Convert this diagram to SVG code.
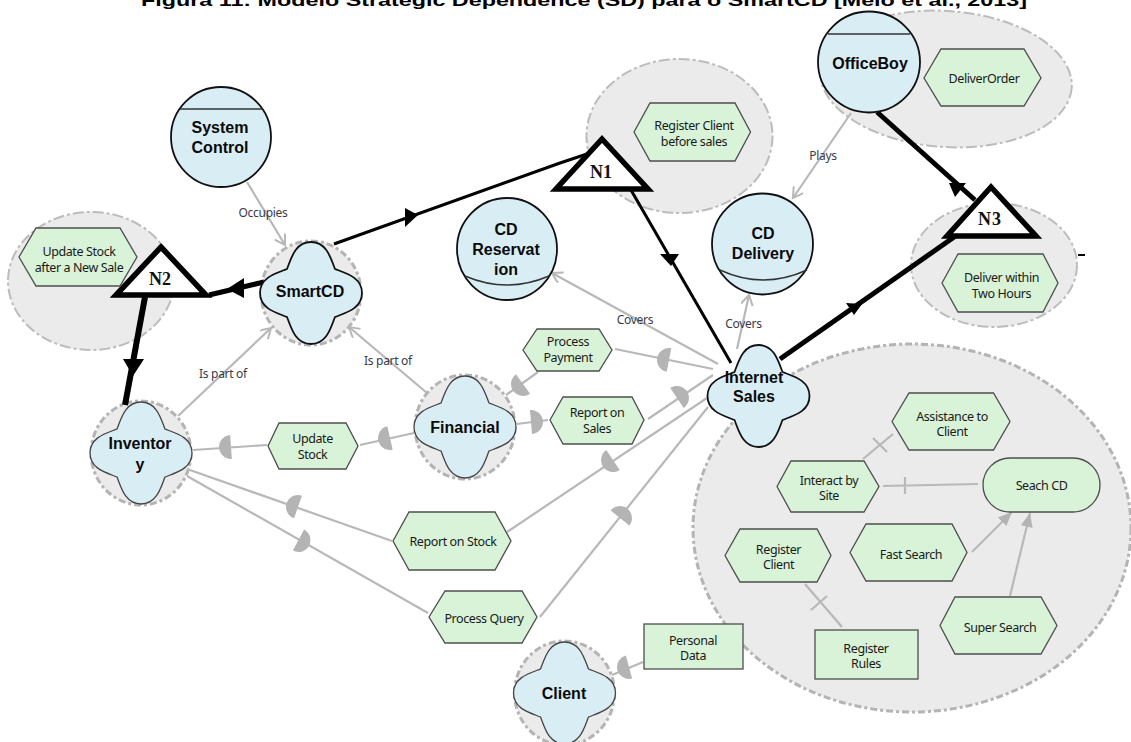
<svg xmlns="http://www.w3.org/2000/svg" xmlns:xlink="http://www.w3.org/1999/xlink" width="1131" height="742" viewBox="0 0 1131 742">
<style>
text{font-family:"Noto Sans","Liberation Sans",sans-serif;text-anchor:middle;fill:#1a1a1a}
.title{font-family:"Liberation Sans",Arial,sans-serif;font-weight:700;font-size:17px;fill:#000;text-anchor:start}
.b{font-family:"Liberation Sans",Arial,sans-serif;font-weight:700;font-size:16px;fill:#0a0a0a}
.t{font-size:12.5px;letter-spacing:-0.4px}
.l{font-size:12px;letter-spacing:-0.3px;fill:#3a3a4a}
.n{font-family:"Liberation Serif",serif;font-weight:700;font-size:18px;fill:#111}
.bd{fill:#ebebeb;stroke:#bcbcbc;stroke-width:2;stroke-dasharray:11 3 3 3}
.bd2{fill:#ebebeb;stroke:#b4b4b4;stroke-width:3;stroke-dasharray:7 3 3 3}
.ag{fill:#d9edf5;stroke:#111;stroke-width:1.8}
.ag2{fill:#d9edf5;stroke:#444;stroke-width:1.3}
.cl{fill:none;stroke:#333;stroke-width:1.4}
.h{fill:#d8f3d8;stroke:#4d4d4d;stroke-width:1.3}
.g{fill:none;stroke:#b8b8b8;stroke-width:2.2}
.k{fill:none;stroke:#000}
.tri{fill:#fff;stroke:#000;stroke-width:5.5;stroke-linejoin:miter}
.d{fill:#b4b4b4}
</style>
<defs>
<path id="cloud" d="M0,-51C16,-51 20,-34 24,-24C34,-20 51,-16 51,0C51,16 34,20 24,24C20,34 16,51 0,51C-16,51 -20,34 -24,24C-34,20 -51,16 -51,0C-51,-16 -34,-20 -24,-24C-20,-34 -16,-51 0,-51Z"/>
<path id="dm" class="d" d="M0,-12C7,-12 12,-6 12,0C12,6 7,12 0,12Z"/>
<marker id="open" markerWidth="14" markerHeight="14" refX="11" refY="6" orient="auto" markerUnits="userSpaceOnUse"><path d="M1,0L11,6L1,12" fill="none" stroke="#b8b8b8" stroke-width="2"/></marker>
<marker id="fill" markerWidth="16" markerHeight="14" refX="14" refY="7" orient="auto" markerUnits="userSpaceOnUse"><path d="M0,1L14,7L0,13Z" fill="#b4b4b4"/></marker>
</defs>
<rect width="1131" height="742" fill="#fff"/>
<text class="title" x="141" y="6" textLength="886" lengthAdjust="spacingAndGlyphs">Figura 11: Modelo Strategic Dependence (SD) para o SmartCD [Melo et al., 2013]</text>

<g id="boundaries">
<ellipse class="bd" cx="679.5" cy="136" rx="93" ry="77"/>
<ellipse class="bd" cx="946" cy="79" rx="126" ry="68" transform="rotate(4 946 79)"/>
<ellipse class="bd" cx="994" cy="265" rx="83" ry="62"/>
<ellipse class="bd" cx="91" cy="281" rx="83" ry="69"/>
<ellipse class="bd2" cx="912" cy="528" rx="219" ry="184"/>
<ellipse class="bd2" cx="311" cy="293" rx="50" ry="52"/>
<ellipse class="bd2" cx="141" cy="453" rx="50" ry="52"/>
<ellipse class="bd2" cx="465" cy="427" rx="50" ry="52"/>
<ellipse class="bd2" cx="564.5" cy="693" rx="50" ry="52"/>
</g>

<g id="connectors">
<path class="g" marker-end="url(#open)" d="M247,182L285,245"/>
<path class="g" marker-end="url(#open)" d="M178,416L271,328"/>
<path class="g" marker-end="url(#open)" d="M427,393L349,327"/>
<path class="g" marker-end="url(#open)" d="M851,113L793,198"/>
<path class="g" marker-end="url(#open)" d="M737,349L749,295"/>
<path class="g" marker-end="url(#open)" d="M718,364L552,273"/>
<path class="g" d="M615,349L713,369"/>
<path class="g" d="M506,395L538,372"/>
<path class="g" d="M517,424L548,420"/>
<path class="g" d="M648,419L713,375"/>
<path class="g" d="M507,532L707,398"/>
<path class="g" d="M540,617L708,407"/>
<path class="g" d="M360,445L414,433"/>
<path class="g" d="M193,450L267,445"/>
<path class="g" d="M187,469L392,541"/>
<path class="g" d="M187,476L428,613"/>
<path class="g" d="M612,675L643,662"/>
<use href="#dm" transform="translate(669,360) rotate(191)"/>
<use href="#dm" transform="translate(523,384) rotate(144)"/>
<use href="#dm" transform="translate(531,422) rotate(355)"/>
<use href="#dm" transform="translate(677,398) rotate(-34)"/>
<use href="#dm" transform="translate(613,460) rotate(146)"/>
<use href="#dm" transform="translate(620,518) rotate(-51)"/>
<use href="#dm" transform="translate(390,438) rotate(167)"/>
<use href="#dm" transform="translate(231,447) rotate(176)"/>
<use href="#dm" transform="translate(298,507) rotate(199)"/>
<use href="#dm" transform="translate(298.5,540) rotate(28)"/>
<use href="#dm" transform="translate(629,667) rotate(165)"/>
<path class="g" d="M863,459L893,434M873,438L887,452"/>
<path class="g" d="M883,486L978,484M905,477V494"/>
<path class="g" d="M805,584L842,627M811,610L827,596"/>
<path class="g" marker-end="url(#fill)" d="M972,552L1012,512"/>
<path class="g" marker-end="url(#fill)" d="M1010,596L1030,513"/>
<path class="k" stroke-width="3" d="M334,244L560,163L587,154"/>
<polygon points="405,208 418,215 405,227" fill="#000"/>
<path class="k" stroke-width="3" d="M631,190L731,363"/>
<polygon points="660,254 679,254 671,266" fill="#000"/>
<path class="k" stroke-width="5" d="M877,112L975,200"/>
<polygon points="949,183 966,183 955,197" fill="#000"/>
<path class="k" stroke-width="5" d="M780,359L957,235"/>
<polygon points="846,303 862,304 854,315" fill="#000"/>
<path class="k" stroke-width="5" d="M264,282L209,295"/>
<polygon points="227,289 244,278 244,298" fill="#000"/>
<path class="k" stroke-width="6" d="M145,297L125,405"/>
<polygon points="123,359 144,359 133,376" fill="#000"/>
<path stroke="#000" stroke-width="2" d="M1078,255H1085"/>
</g>

<g id="label-connectors">
<text class="l" x="263" y="217">Occupies</text>
<text class="l" x="223" y="378">Is part of</text>
<text class="l" x="388" y="365">Is part of</text>
<text class="l" x="823" y="160">Plays</text>
<text class="l" x="743.5" y="328">Covers</text>
<text class="l" x="635" y="324">Covers</text>
</g>

<g id="system-control"><ellipse class="ag" cx="221" cy="137" rx="50" ry="50"/><path class="cl" d="M180,109H263"/><text class="b"><tspan x="220" y="133">System</tspan><tspan x="220" y="152.500">Control</tspan></text></g>
<g id="cd-reservation"><ellipse class="ag" cx="507" cy="249" rx="50" ry="51"/><path class="cl" d="M465,276Q507,294 549,276"/><text class="b"><tspan x="506" y="234.500">CD</tspan><tspan x="506" y="254.500">Reservat</tspan><tspan x="506" y="274.500">ion</tspan></text></g>
<g id="officeboy"><ellipse class="ag" cx="869" cy="62" rx="51" ry="50.500"/><path class="cl" d="M828,34H910"/><text class="b" x="870" y="68.500">OfficeBoy</text></g>
<g id="cd-delivery"><ellipse class="ag" cx="762.500" cy="244" rx="50.500" ry="50.500"/><path class="cl" d="M720,270Q763,290 807,270"/><text class="b"><tspan x="763" y="239">CD</tspan><tspan x="763" y="259">Delivery</tspan></text></g>

<g id="smartcd"><use href="#cloud" class="ag" transform="translate(311,293)"/><text class="b" x="310" y="297">SmartCD</text></g>
<g id="inventory"><use href="#cloud" class="ag2" transform="translate(141,453)"/><text class="b"><tspan x="140" y="449">Inventor</tspan><tspan x="140" y="470">y</tspan></text></g>
<g id="financial"><use href="#cloud" class="ag2" transform="translate(465,427)"/><text class="b" x="465" y="433">Financial</text></g>
<g id="client"><use href="#cloud" class="ag2" transform="translate(564.500,693)"/><text class="b" x="564" y="699">Client</text></g>
<g id="internet-sales"><use href="#cloud" class="ag" transform="translate(758.500,396)"/><text class="b"><tspan x="754" y="382.500">Internet</tspan><tspan x="754" y="402">Sales</tspan></text></g>

<g id="n1"><polygon class="tri" points="602,139 648,189 556,189"/><text class="n" x="601" y="178">N1</text></g>
<g id="n2"><polygon class="tri" points="161,247 206,295 116,295"/><text class="n" x="160" y="285">N2</text></g>
<g id="n3"><polygon class="tri" points="991,187 1036,236 947,236"/><text class="n" x="990" y="225" letter-spacing="1">N3</text></g>

<g id="register-client-before-sales"><polygon class="h" points="634,132 650,103 735,103 750.500,132 735,161 650,161"/><text class="t"><tspan x="694" y="130">Register Client</tspan><tspan x="694" y="146">before sales</tspan></text></g>
<g id="deliver-order"><polygon class="h" points="924,78 941,49 1024,49 1041,78 1024,106 941,106"/><text class="t" x="984" y="83">DeliverOrder</text></g>
<g id="deliver-within"><polygon class="h" points="942,283 958,254 1043,254 1058,283 1043,312 958,312"/><text class="t"><tspan x="1001.500" y="282">Deliver within</tspan><tspan x="1001.500" y="298">Two Hours</tspan></text></g>
<g id="update-stock-new-sale"><polygon class="h" points="19,257 36,228 120,228 137,257 120,286 36,286"/><text class="t"><tspan x="79" y="256">Update Stock</tspan><tspan x="79" y="272">after a New Sale</tspan></text></g>
<g id="process-payment"><polygon class="h" points="523,350 537,329 599,329 612,350 599,371 537,371"/><text class="t"><tspan x="568" y="346">Process</tspan><tspan x="568" y="362">Payment</tspan></text></g>
<g id="report-on-sales"><polygon class="h" points="550,420 563,397 632,397 644,420 632,444 563,444"/><text class="t"><tspan x="597" y="417">Report on</tspan><tspan x="597" y="432.500">Sales</tspan></text></g>
<g id="update-stock"><polygon class="h" points="268,446 279,423 346,423 358,446 346,469 279,469"/><text class="t"><tspan x="312.500" y="443">Update</tspan><tspan x="312.500" y="458.500">Stock</tspan></text></g>
<g id="report-on-stock"><polygon class="h" points="393,541 409,512 495,512 511,541 495,570 409,570"/><text class="t" x="453" y="545.500">Report on Stock</text></g>
<g id="process-query"><polygon class="h" points="429,617 445,591 522,591 537,617 522,643 445,643"/><text class="t" x="484" y="622.500">Process Query</text></g>
<g id="personal-data"><rect class="h" x="644" y="624" width="99" height="45"/><text class="t"><tspan x="693" y="644.500">Personal</tspan><tspan x="693" y="660">Data</tspan></text></g>
<g id="assistance"><polygon class="h" points="892,421.500 909,393 993.500,393 1010,421.500 993.500,450 909,450"/><text class="t"><tspan x="952" y="420.500">Assistance to</tspan><tspan x="952" y="436">Client</tspan></text></g>
<g id="interact"><polygon class="h" points="777,486.500 791,461 864,461 879,486.500 864,512 791,512"/><text class="t"><tspan x="829" y="484.500">Interact by</tspan><tspan x="829" y="500">Site</tspan></text></g>
<g id="seach-cd"><rect class="h" x="983" y="458" width="117" height="54" rx="27" ry="27"/><text class="t" x="1041.500" y="489.500">Seach CD</text></g>
<g id="register-client"><polygon class="h" points="725,555.500 740,529 817,529 831,555.500 817,582 740,582"/><text class="t"><tspan x="778.500" y="553.500">Register</tspan><tspan x="778.500" y="569">Client</tspan></text></g>
<g id="fast-search"><polygon class="h" points="850,552.500 866,524 952,524 967,552.500 952,581 866,581"/><text class="t" x="911" y="558.500">Fast Search</text></g>
<g id="super-search"><polygon class="h" points="940,625.500 955,597 1041,597 1057,625.500 1041,654 955,654"/><text class="t" x="1000" y="631.500">Super Search</text></g>
<g id="register-rules"><rect class="h" x="815" y="630" width="103" height="49"/><text class="t"><tspan x="866" y="652.500">Register</tspan><tspan x="866" y="668">Rules</tspan></text></g>
</svg>
